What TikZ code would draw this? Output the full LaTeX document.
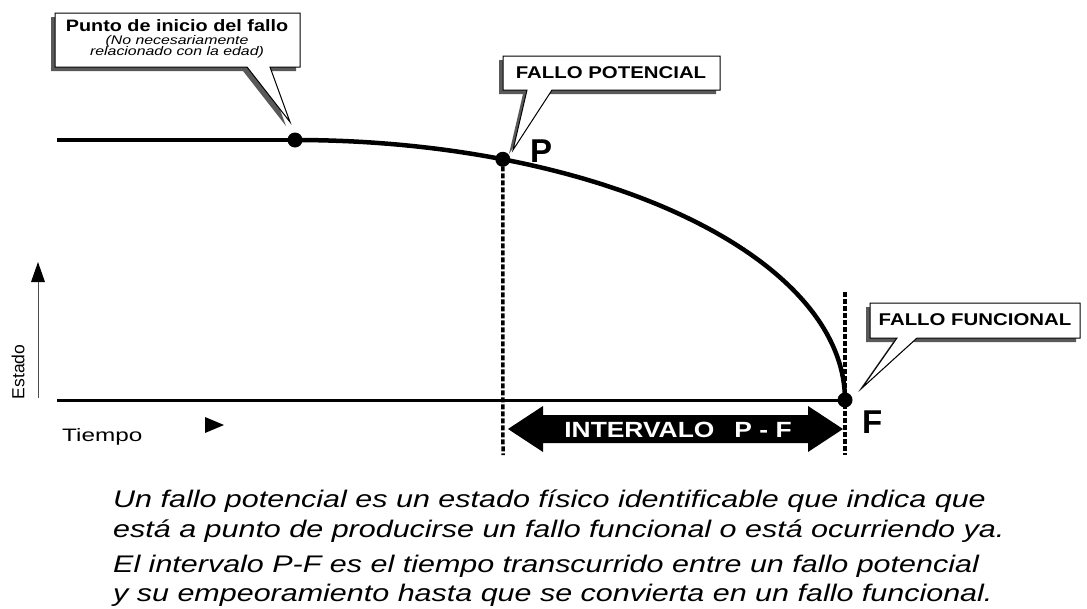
\documentclass[tikz,border=0pt]{standalone}
\usepackage{fontspec}
\setmainfont{Liberation Sans}
\newfontfamily\capfont[FakeStretch=1.27]{Liberation Sans}
\newfontfamily\boxfont[FakeStretch=1.2]{Liberation Sans}
\newfontfamily\subfont[FakeStretch=1.27]{Liberation Sans}
\newfontfamily\axfont[FakeStretch=1.35]{Liberation Sans}
\newcommand{\callshape}[7]{%
  \fill[black!65,xshift=-4pt,yshift=-4pt] (#1,#2) -- (#3,#2) -- (#3,#4) -- (#6,#4) -- #7 -- (#5,#4) -- (#1,#4) -- cycle;
  \draw[line width=1pt,fill=white,line join=miter] (#1,#2) -- (#3,#2) -- (#3,#4) -- (#6,#4) -- #7 -- (#5,#4) -- (#1,#4) -- cycle;}
\begin{document}
\begin{tikzpicture}[x=1pt,y=-1pt,
  dotpt/.style={circle,fill=black,inner sep=0pt,minimum size=15pt},
  vdash/.style={line width=3.5pt,dash pattern=on 5pt off 2pt},
  lbl/.style={font=\fontsize{33}{33}\selectfont\bfseries,inner sep=0pt},
  caption/.style={font=\capfont\fontsize{24}{29.5}\selectfont\itshape,anchor=base west,inner sep=0pt}]
\useasboundingbox (0,0) rectangle (1087,608);
\fill[white] (0,0) rectangle (1087,608);
% points
\coordinate (L) at (57,140);
\coordinate (B) at (57,400);
\node[dotpt] (S) at (295,140) {};
\node[dotpt] (P) at ({295+550*sin(22.2)},{400-260*cos(22.2)}) {};
\node[dotpt] (F) at (845,400) {};
% vertical dashed lines
\coordinate (P1) at (503,455);
\coordinate (F0) at (845,292);
\coordinate (F1) at (845,455);
\draw[vdash] (P.center) -- (P1);
\draw[vdash] (F0) -- (F1);
% baseline
\draw[line width=3pt] (B) -- (F.center);
% curve
\draw[line width=4.5pt] (L) -- (S.center);
\draw[line width=4.5pt,line cap=round] plot[domain=0:90,samples=80,smooth] ({295+550*sin(\x)},{400-260*cos(\x)});
% labels
\node[lbl,anchor=base west] (Pl) at (530,162) {P};
\node[lbl,anchor=base west] (Fl) at (862,433) {F};
% axes
\node[font=\axfont\fontsize{18}{18}\selectfont,anchor=base west,inner sep=0pt] (T) at (62,441) {Tiempo};
\fill (205,417) -- (224,425) -- (205,433) -- cycle;
\node[font=\fontsize{17.5}{17.5}\selectfont,rotate=90,anchor=center] (E) at (18,372) {Estado};
\coordinate (Ea) at (38,398);
\coordinate (Eb) at (38,276);
\draw[line width=0.6pt,black!70] (Ea) -- (Eb);
\fill (31,282) -- (38,262) -- (45,282) -- cycle;
% double arrow
\fill (508,429) -- (543,406) -- (543,415) -- (808,415) -- (808,406) -- (843,429) -- (808,452) -- (808,443) -- (543,443) -- (543,452) -- cycle;
\node[text=white,font=\boxfont\fontsize{22}{22}\selectfont\bfseries] (IPF) at (678,430) {INTERVALO\hspace{20pt}P - F};
% callouts
\callshape{55}{13}{300}{67}{247}{270}{(290,122)}
\node[align=center,inner sep=0pt] (C1) at (177,39)
  {{\boxfont\fontsize{16.5}{17}\selectfont\bfseries Punto de inicio del fallo}\\[1pt]
   {\subfont\fontsize{12.5}{12}\selectfont\itshape (No necesariamente}\\[-1pt]
   {\subfont\fontsize{12.5}{12}\selectfont\itshape relacionado con la edad)}};
\callshape{503}{56}{720}{90}{527}{552}{(513,150)}
\node[inner sep=0pt,font=\boxfont\fontsize{17}{18}\selectfont\bfseries] (C2) at (611,73) {FALLO POTENCIAL};
\callshape{870}{303}{1080}{338}{897}{917}{(862,388)}
\node[inner sep=0pt,font=\boxfont\fontsize{17}{18}\selectfont\bfseries] (C3) at (975,320) {FALLO FUNCIONAL};
% caption
\node[caption] (cap1) at (113,507) {Un fallo potencial es un estado físico identificable que indica que};
\node[caption] (cap2) at (113,537) {está a punto de producirse un fallo funcional o está ocurriendo ya.};
\node[caption] (cap3) at (113,572) {El intervalo P-F es el tiempo transcurrido entre un fallo potencial};
\node[caption] (cap4) at (113,601) {y su empeoramiento hasta que se convierta en un fallo funcional.};
\end{tikzpicture}
\end{document}
